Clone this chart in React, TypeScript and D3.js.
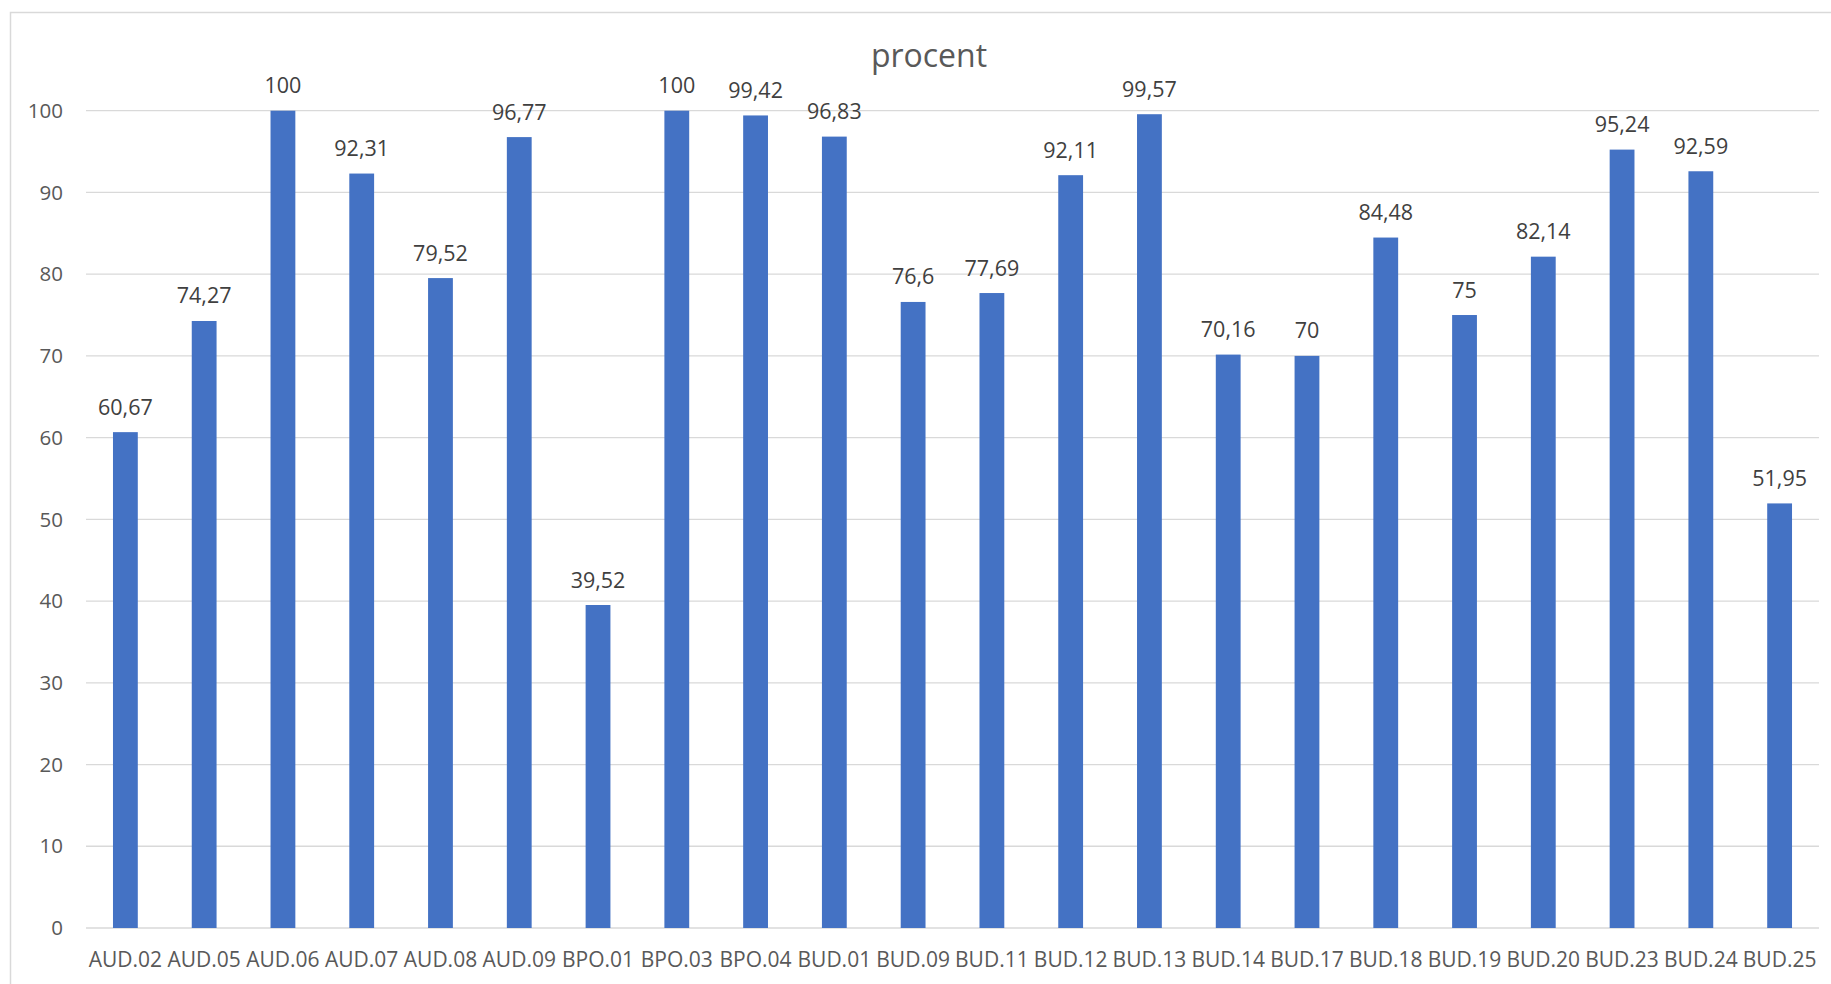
import React from "react";
import * as d3 from "d3";

const categories = ["AUD.02","AUD.05","AUD.06","AUD.07","AUD.08","AUD.09","BPO.01","BPO.03","BPO.04","BUD.01","BUD.09","BUD.11","BUD.12","BUD.13","BUD.14","BUD.17","BUD.18","BUD.19","BUD.20","BUD.23","BUD.24","BUD.25"];
const values = [60.67,74.27,100,92.31,79.52,96.77,39.52,100,99.42,96.83,76.6,77.69,92.11,99.57,70.16,70,84.48,75,82.14,95.24,92.59,51.95];
const yTicks = [0,10,20,30,40,50,60,70,80,90,100];
const title = "procent";

export default function App() {
  const W = 1831, H = 984;
  const left = 86, right = 1819, top = 110.7, bottom = 928;
  const x = d3.scaleBand<string>().domain(categories).range([left, right]).paddingInner(0.685).paddingOuter(0.3425);
  const y = d3.scaleLinear().domain([0, 100]).range([bottom, top]);
  const fmt = (v: number) => String(v).replace(".", ",");
  const font = "'Open Sans', 'Segoe UI', sans-serif";
  return (
    <svg width={W} height={H} style={{ position: "absolute", left: 0, top: 0, background: "#fff" }} fontFamily={font}>
      <rect x={10.5} y={12.5} width={W + 20} height={H + 20} fill="#fff" stroke="#D9D9D9" strokeWidth={1.5} />
      <text x={929} y={67} textAnchor="middle" fontSize={32} fill="#595959">{title}</text>
      {yTicks.map((t) => (
        <g key={t}>
          <line x1={left} x2={right} y1={y(t)} y2={y(t)} stroke="#D9D9D9" strokeWidth={1.3} />
          <text x={63} y={y(t)} dy="0.35em" textAnchor="end" fontSize={20.5} fill="#595959">{t}</text>
        </g>
      ))}
      {categories.map((c, i) => {
        const bx = x(c)!;
        const bw = x.bandwidth();
        const cx = bx + bw / 2;
        return (
          <g key={c}>
            <rect x={bx} y={y(values[i])} width={bw} height={bottom - y(values[i])} fill="#4472C4" />
            <text x={cx} y={y(values[i]) - 17.5} textAnchor="middle" fontSize={21.5} fill="#404040">{fmt(values[i])}</text>
            <text x={cx} y={967} textAnchor="middle" fontSize={21} fill="#595959">{c}</text>
          </g>
        );
      })}
    </svg>
  );
}
